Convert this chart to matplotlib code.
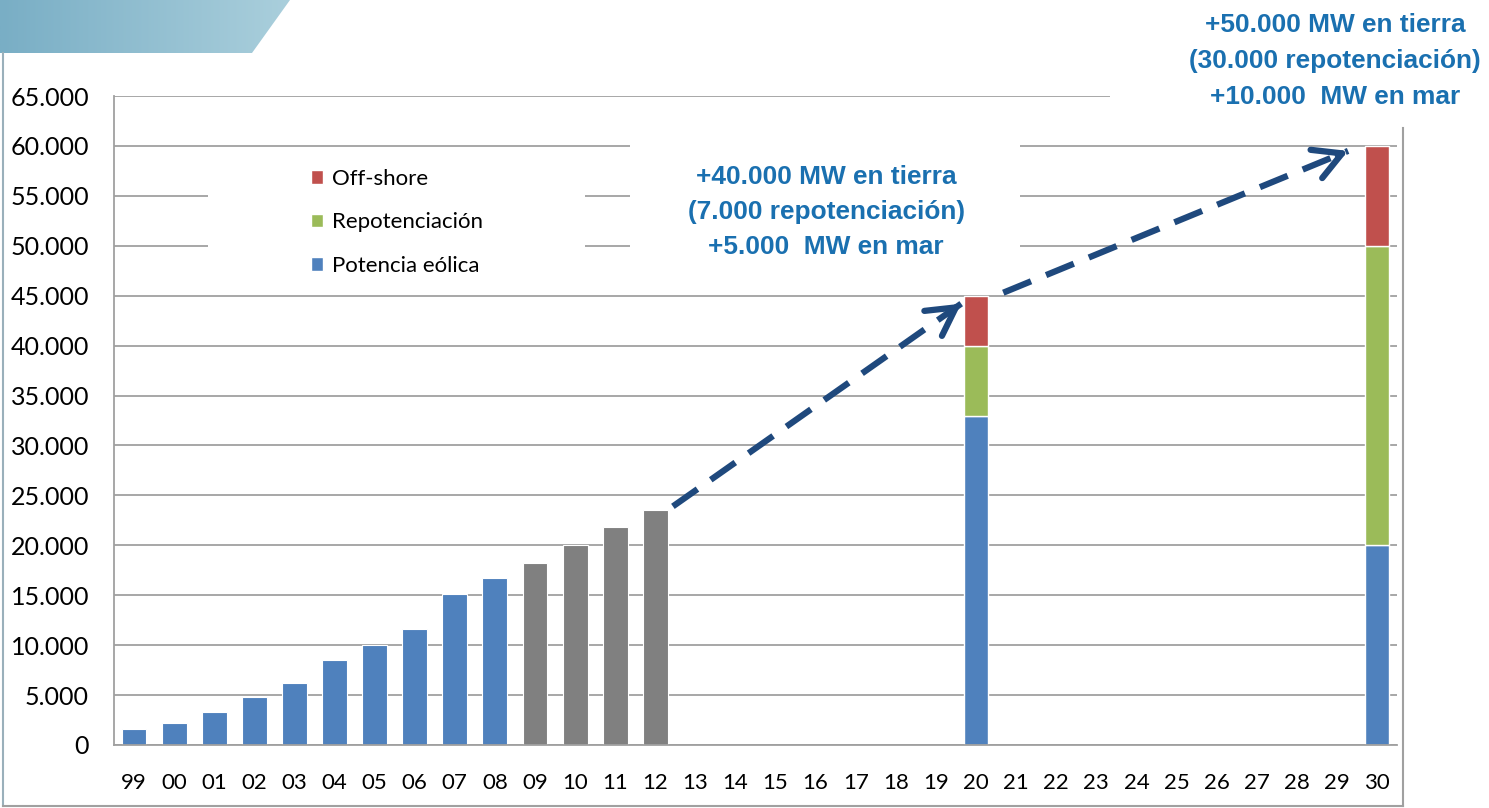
import numpy as np
import matplotlib
matplotlib.use('Agg')
import matplotlib.pyplot as plt
from matplotlib.patches import Rectangle, Polygon
from matplotlib.lines import Line2D
from matplotlib.colors import LinearSegmentedColormap

# categories (years, two digits)
anios = ['99', '00', '01', '02', '03', '04', '05', '06', '07', '08', '09', '10',
         '11', '12', '13', '14', '15', '16', '17', '18', '19', '20', '21', '22',
         '23', '24', '25', '26', '27', '28', '29', '30']

# installed power up to 2012 (MW)
hist_anios = ['99', '00', '01', '02', '03', '04', '05', '06', '07', '08', '09', '10', '11', '12']
hist_mw = [1600, 2200, 3300, 4800, 6200, 8500, 10000, 11600, 15100, 16700, 18200, 20000, 21800, 23500]
estimado_desde = '09'   # grey bars from this year on

# targets 2020 / 2030 (MW)
obj_anios = ['20', '30']
obj_eolica = [33000, 20000]
obj_repot = [7000, 30000]
obj_offshore = [5000, 10000]

c_azul = '#4f81bd'
c_verde = '#9bbb59'
c_rojo = '#c0504d'
c_gris = '#808080'
c_texto = '#1a70b0'
c_flecha = '#1f497d'

font_main = 'Lato'
W, H = 1489, 808

fig = plt.figure(figsize=(W/100, H/100), dpi=100)
ax = fig.add_axes([114/W, 63/H, 1283/W, 649/H])

ix = {a: i for i, a in enumerate(anios)}
xh = np.array([ix[a] for a in hist_anios])
col_h = [c_gris if int(a) >= int(estimado_desde) and int(a) < 99 else c_azul for a in hist_anios]
ax.bar(xh, hist_mw, width=0.62, color=col_h, edgecolor='white', linewidth=0.8, zorder=2)

xo = np.array([ix[a] for a in obj_anios])
b1 = ax.bar(xo, obj_eolica, width=0.62, color=c_azul, edgecolor='white', linewidth=1, zorder=2)
b2 = ax.bar(xo, obj_repot, width=0.62, bottom=obj_eolica, color=c_verde, edgecolor='white', linewidth=1, zorder=2)
b3 = ax.bar(xo, obj_offshore, width=0.62, bottom=np.add(obj_eolica, obj_repot), color=c_rojo,
            edgecolor='white', linewidth=1, zorder=2)

ax.set_xlim(-0.5, len(anios) - 0.5)
ax.set_ylim(0, 65000)
yt = np.arange(0, 65001, 5000)
ax.set_yticks(yt)
ax.set_yticklabels([f'{v:,.0f}'.replace(',', '.') for v in yt], fontsize=18, family=font_main)
ax.set_xticks(np.arange(len(anios)))
ax.set_xticklabels(anios, fontsize=16, family=font_main)
ax.tick_params(axis='y', length=0, pad=18)
ax.tick_params(axis='x', length=0, pad=20)
ax.yaxis.grid(True, color='#a0a0a0', linewidth=1.3)
ax.set_axisbelow(True)
for s in ['top', 'right']:
    ax.spines[s].set_visible(False)
for s in ['left', 'bottom']:
    ax.spines[s].set_color('#a0a0a0')
    ax.spines[s].set_linewidth(1.3)

def axx(px):
    return (px - 114) / 1283.

def axy(py):
    return (745 - py) / 649.

# white boxes behind legend and texts
ax.add_patch(Rectangle((axx(208), axy(285)), axx(585) - axx(208), axy(160) - axy(285),
                       transform=ax.transAxes, facecolor='white', edgecolor='none', zorder=1))
ax.add_patch(Rectangle((axx(630), axy(280)), axx(1020) - axx(630), axy(140) - axy(280),
                       transform=ax.transAxes, facecolor='white', edgecolor='none', zorder=1))
ax.add_patch(Rectangle((axx(1110), axy(128)), 0.4, 0.3, transform=ax.transAxes,
                       facecolor='white', edgecolor='none', zorder=1, clip_on=False))

ax.legend([b3, b2, b1], ['Off-shore', 'Repotenciación', 'Potencia eólica'],
          loc='upper left', bbox_to_anchor=(axx(311), axy(169)), frameon=False,
          prop={'family': font_main, 'size': 16}, handlelength=0.55, handleheight=0.55,
          handletextpad=0.4, labelspacing=1.05, borderpad=0, borderaxespad=0)

tfont = dict(family='Liberation Sans', weight='bold',
             size=18.9, color=c_texto, ha='center', va='center')
ax.text(axx(826), axy(212), '+40.000 MW en tierra\n(7.000 repotenciación)\n+5.000  MW en mar',
        transform=ax.transAxes, zorder=3, linespacing=1.6, **tfont)
ax.text(axx(1335), axy(61), '+50.000 MW en tierra\n(30.000 repotenciación)\n+10.000  MW en mar',
        transform=ax.transAxes, zorder=3, clip_on=False, linespacing=1.65, **tfont)

# dashed arrows
flechas = [((13.44, 23900), (20.63, 44200)), ((21.68, 45300), (30.28, 59500))]
for (x0, y0), (x1, y1) in flechas:
    ax.plot([x0, x1], [y0, y1], color=c_flecha, lw=4.5, dashes=(4.8, 2.6),
            solid_capstyle='butt', dash_capstyle='butt', zorder=4, clip_on=False)
    xb = x1 - 0.03 * (x1 - x0)
    yb = y1 - 0.03 * (y1 - y0)
    ax.annotate('', xy=(x1, y1), xytext=(xb, yb),
                arrowprops=dict(arrowstyle='->,head_length=1.0,head_width=0.55',
                                color=c_flecha, lw=4.5, mutation_scale=20,
                                shrinkA=0, shrinkB=0), zorder=4, annotation_clip=False)

# chart frame
fig.add_artist(Line2D([3/W, 3/W], [1 - 53/H, 2/H], color='#9ab0bb', lw=1.5))
fig.add_artist(Line2D([3/W, 1403/W], [2/H, 2/H], color='#a0a0a0', lw=1.5))
fig.add_artist(Line2D([1403/W, 1403/W], [2/H, 1 - 128/H], color='#a0a0a0', lw=1.5))

# banner top left
bax = fig.add_axes([0, 1 - 53/H, 290/W, 53/H])
bax.axis('off')
grad = np.linspace(0, 1, 256).reshape(1, -1)
cmap = LinearSegmentedColormap.from_list('banda', ['#79aec5', '#aacfdc'])
im = bax.imshow(grad, extent=[0, 290, 0, 53], aspect='auto', cmap=cmap)
bax.set_xlim(0, 290)
bax.set_ylim(0, 53)
poly = Polygon([(0, 0), (252, 0), (290, 53), (0, 53)], transform=bax.transData)
im.set_clip_path(poly)

fig.savefig('out.png', dpi=100)
